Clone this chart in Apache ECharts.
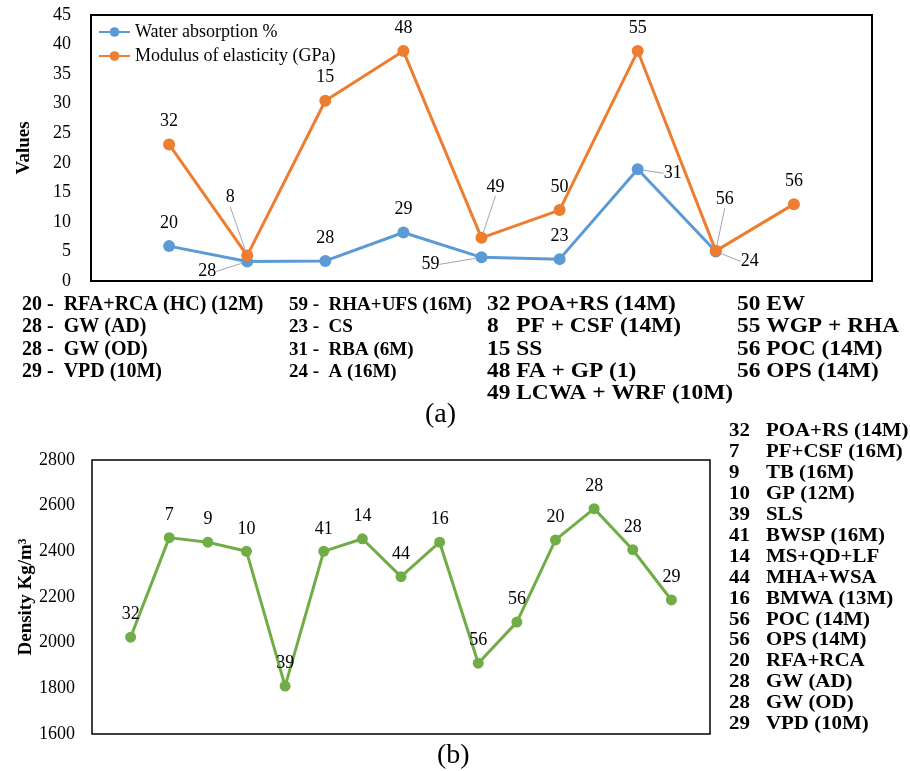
<!DOCTYPE html>
<html>
<head>
<meta charset="utf-8">
<title>Water absorption, modulus of elasticity and density</title>
<script src="https://cdn.jsdelivr.net/npm/echarts@6/dist/echarts.min.js"></script>
<style>
    html, body { margin: 0; padding: 0; background: #fff; }
    #chart { width: 910px; height: 771px; }
</style>
</head>
<body>
<div id="chart"></div>
<script>
    // (a) water absorption % and modulus of elasticity
    var waterValues = [5.9, 3.3, 3.4, 8.2, 4.0, 3.7, 18.9, 5.0];
    var waterRefs = ['20', '28', '28', '29', '59', '23', '31', '24'];
    var waterMaterials = ['RFA+RCA (HC) (12M)', 'GW (AD)', 'GW (OD)', 'VPD (10M)',
        'RHA+UFS (16M)', 'CS', 'RBA (6M)', 'A (16M)'];

    var modulusValues = [23.1, 4.3, 30.5, 38.9, 7.3, 12.0, 38.9, 5.1, 13.0];
    var modulusRefs = ['32', '8', '15', '48', '49', '50', '55', '56', '56'];
    var modulusMaterials = ['POA+RS (14M)', 'PF + CSF (14M)', 'SS', 'FA + GP (1)',
        'LCWA + WRF (10M)', 'EW', 'WGP + RHA', 'POC (14M)', 'OPS (14M)'];

    var valuesTicks = [0, 45, 5];

    // (b) density
    var densityValues = [2024, 2460, 2440, 2400, 1810, 2400, 2455, 2289, 2440,
        1910, 2090, 2450, 2587, 2407, 2187];
    var densityRefs = ['32', '7', '9', '10', '39', '41', '14', '44', '16',
        '56', '56', '20', '28', '28', '29'];
    var densityMaterials = ['POA+RS (14M)', 'PF+CSF (16M)', 'TB (16M)', 'GP (12M)', 'SLS',
        'BWSP (16M)', 'MS+QD+LF', 'MHA+WSA', 'BMWA (13M)', 'POC (14M)', 'OPS (14M)',
        'RFA+RCA', 'GW (AD)', 'GW (OD)', 'VPD (10M)'];

    var densityTicks = [1600, 2800, 200];

    var serif = 'Liberation Serif';

    // labels that sit away from their point, with a leader line
    var waterShift = {1: [-40, 33], 4: [-51, 30], 6: [35, 27], 7: [34, 33]};
    var modulusShift = {1: [-17, -35], 4: [14, -28], 7: [9, -29]};

    function points(values, refs, shift) {
        return values.map(function (v, i) {
            var item = {value: [i + 1, v], name: refs[i]};
            if (shift && shift[i]) {
                item.labelLine = {show: true, lineStyle: {color: '#a6a6a6', width: 1}};
            }
            return item;
        });
    }

    function shifter(shift) {
        return function (params) {
            var s = shift[params.dataIndex];
            return s ? {dx: s[0], dy: s[1]} : {};
        };
    }

    function text(x, y, str, size, bold, scaleX) {
        return {
            type: 'text', x: x, y: y, scaleX: scaleX || 1,
            style: {
                text: str, fill: '#000', fontFamily: serif, fontSize: size,
                fontWeight: bold ? 'bold' : 'normal', verticalAlign: 'middle'
            }
        };
    }

    // reference lists
    var graphics = [];
    var rowY = 305, rowStep = 22.3;
    waterRefs.forEach(function (r, i) {
        var col = i < 4 ? 0 : 1;
        var row = i % 4;
        graphics.push(text(col ? 289 : 22, rowY + row * rowStep,
            r + ' -  ' + waterMaterials[i], col ? 19 : 20, true));
    });
    modulusRefs.forEach(function (r, i) {
        var col = i < 5 ? 0 : 1;
        var row = col ? i - 5 : i;
        var lead = r.length < 2 ? r + '   ' : r + ' ';
        graphics.push(text(col ? 737 : 487, rowY + row * rowStep,
            lead + modulusMaterials[i], 20, true, 1.17));
    });
    densityRefs.forEach(function (r, i) {
        var y = 431.5 + i * 20.9;
        graphics.push(text(729, y, r, 19, true, 1.1));
        graphics.push(text(766, y, densityMaterials[i], 19, true, 1.1));
    });
    graphics.push(text(425, 415, '(a)', 28, false));
    graphics.push(text(437, 756, '(b)', 28, false));

    var chart = echarts.init(document.getElementById('chart'));

    chart.setOption({
        animation: false,
        backgroundColor: '#fff',
        textStyle: {fontFamily: serif},
        grid: [
            {left: 91, top: 15, width: 781, height: 266, show: true,
                borderColor: '#000', borderWidth: 2, backgroundColor: 'transparent'},
            {left: 92, top: 460, width: 618, height: 274, show: true,
                borderColor: '#000', borderWidth: 1.5, backgroundColor: 'transparent'}
        ],
        legend: {
            orient: 'vertical',
            left: 98,
            top: 23,
            padding: 0,
            itemWidth: 31,
            itemHeight: 12,
            itemGap: 6,
            textStyle: {fontFamily: serif, fontSize: 18, color: '#000'},
            data: ['Water absorption %', 'Modulus of elasticity (GPa)']
        },
        xAxis: [
            {type: 'value', gridIndex: 0, min: 0, max: waterValues.length + 2, show: false},
            {type: 'value', gridIndex: 1, min: 0, max: densityValues.length + 1, show: false}
        ],
        yAxis: [
            {
                type: 'value', gridIndex: 0,
                min: valuesTicks[0], max: valuesTicks[1], interval: valuesTicks[2],
                name: 'Values', nameLocation: 'middle', nameGap: 57, nameMoveOverlap: false,
                nameTextStyle: {fontFamily: serif, fontSize: 19, fontWeight: 'bold', color: '#000'},
                axisLine: {show: false}, axisTick: {show: false}, splitLine: {show: false},
                axisLabel: {fontFamily: serif, fontSize: 18, color: '#000', margin: 20}
            },
            {
                type: 'value', gridIndex: 1,
                min: densityTicks[0], max: densityTicks[1], interval: densityTicks[2],
                name: 'Density Kg/m³', nameLocation: 'middle', nameGap: 56, nameMoveOverlap: false,
                nameTextStyle: {fontFamily: serif, fontSize: 19, fontWeight: 'bold', color: '#000'},
                axisLine: {show: false}, axisTick: {show: false}, splitLine: {show: false},
                axisLabel: {fontFamily: serif, fontSize: 18, color: '#000', margin: 17,
                    formatter: function (v) { return String(v); }}
            }
        ],
        series: [
            {
                name: 'Water absorption %',
                type: 'line',
                xAxisIndex: 0, yAxisIndex: 0,
                data: points(waterValues, waterRefs, waterShift),
                color: '#5B9BD5',
                lineStyle: {width: 3},
                symbol: 'circle', symbolSize: 12,
                label: {show: true, position: 'top', distance: 8, formatter: '{b}',
                    fontFamily: serif, fontSize: 18, color: '#000'},
                labelLayout: shifter(waterShift),
                z: 2
            },
            {
                name: 'Modulus of elasticity (GPa)',
                type: 'line',
                xAxisIndex: 0, yAxisIndex: 0,
                data: points(modulusValues, modulusRefs, modulusShift),
                color: '#ED7D31',
                lineStyle: {width: 3},
                symbol: 'circle', symbolSize: 12,
                label: {show: true, position: 'top', distance: 8, formatter: '{b}',
                    fontFamily: serif, fontSize: 18, color: '#000'},
                labelLayout: shifter(modulusShift),
                z: 3
            },
            {
                name: 'Density',
                type: 'line',
                xAxisIndex: 1, yAxisIndex: 1,
                data: points(densityValues, densityRefs),
                color: '#70AD47',
                lineStyle: {width: 3},
                symbol: 'circle', symbolSize: 11,
                label: {show: true, position: 'top', distance: 8, formatter: '{b}',
                    fontFamily: serif, fontSize: 18, color: '#000'}
            }
        ],
        graphic: graphics
    });
</script>
</body>
</html>
